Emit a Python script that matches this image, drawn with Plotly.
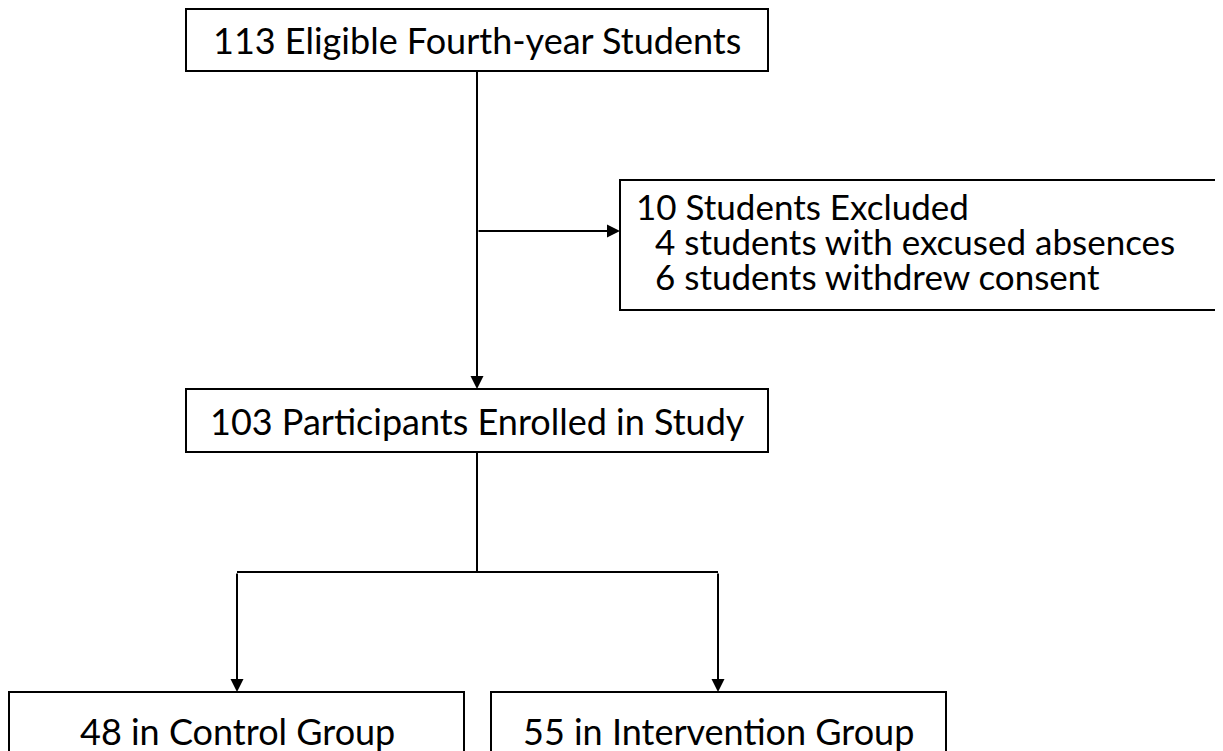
import plotly.graph_objects as go

# ---- data ----
eligible = 113
excluded = 10
excused = 4
withdrew = 6
enrolled = 103
control = 48
intervention = 55

main_labels = [
    f"{eligible} Eligible Fourth-year Students",
    f"{enrolled} Participants Enrolled in Study",
]
exclusion_title = f"{excluded} Students Excluded"
exclusion_items = [
    f"{excused} students with excused absences",
    f"{withdrew} students withdrew consent",
]
group_labels = [f"{control} in Control Group", f"{intervention} in Intervention Group"]

W, H = 1223, 751
OFF = 8  # page body margin offset
FONT = "Lato"
FS = 36
FS_EX = 35
LW = 2

fig = go.Figure()
shapes = []
annots = []

def box(x0, y0, x1, y1):
    shapes.append(dict(type="rect", xref="x", yref="y", x0=x0, y0=y0, x1=x1, y1=y1,
                       line=dict(color="black", width=LW), fillcolor="white", layer="below"))

def line(x0, y0, x1, y1):
    shapes.append(dict(type="line", xref="x", yref="y", x0=x0, y0=y0, x1=x1, y1=y1,
                       line=dict(color="black", width=LW)))

def arrow(x0, y0, x1, y1):
    annots.append(dict(x=x1, y=y1, ax=x0, ay=y0, xref="x", yref="y", axref="x", ayref="y",
                       text="", showarrow=True, arrowhead=2, arrowsize=1.3, arrowwidth=LW,
                       arrowcolor="black", standoff=0))

def label(x, y, txt, xanchor="center", size=FS):
    annots.append(dict(x=x, y=y, xref="x", yref="y", text=txt, showarrow=False,
                       xanchor=xanchor, yanchor="middle",
                       font=dict(family=FONT, size=size, color="black")))

# boxes
box(186, 9, 768, 71)
label(477, 40, main_labels[0])

box(620, 180, 1232, 310)
label(634, 206, exclusion_title, "left", FS_EX)
label(653, 241, exclusion_items[0], "left", FS_EX)
label(653, 276, exclusion_items[1], "left", FS_EX)

box(186, 389, 768, 452)
label(477, 421, main_labels[1])

box(9, 692, 464, 780)
box(491, 692, 946, 780)
label(237, 731, group_labels[0])
label(718, 731, group_labels[1])

# connectors
line(477, 71, 477, 380)
arrow(477, 370, 477, 389)
arrow(477, 231, 620, 231)
line(477, 452, 477, 572)
line(237, 572, 718, 572)
arrow(237, 572, 237, 692)
arrow(718, 572, 718, 692)

fig.update_layout(
    width=W, height=H, margin=dict(l=0, r=0, t=0, b=0),
    paper_bgcolor="white", plot_bgcolor="white",
    xaxis=dict(range=[OFF, W + OFF], visible=False, fixedrange=True),
    yaxis=dict(range=[H + OFF, OFF], visible=False, fixedrange=True),
    shapes=shapes, annotations=annots, showlegend=False,
)
fig.write_html("out.html")
